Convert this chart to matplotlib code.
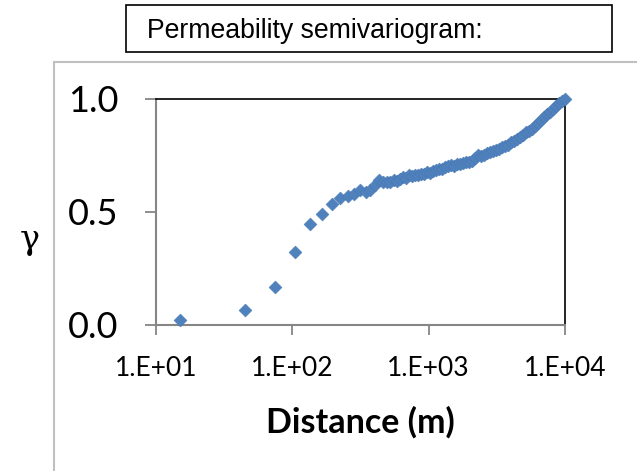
import matplotlib
matplotlib.use("Agg")
import matplotlib.pyplot as plt
from matplotlib.patches import Rectangle

# semivariogram points (lag distance in m, gamma)
distance = [15, 45, 75, 105, 135, 165, 195, 225, 255, 285, 315, 345, 375,
            405, 434, 464, 496, 522, 559, 588, 618, 650, 684, 720, 757,
            796, 838, 881, 927, 975, 1026, 1079, 1135, 1194, 1256, 1321,
            1390, 1462, 1538, 1618, 1702, 1790, 1883, 1981, 2084, 2192,
            2306, 2426, 2552, 2685, 2824, 2971, 3126, 3288, 3459, 3639,
            3828, 4027, 4236, 4456, 4688, 4931, 5188, 5457, 5741, 6039,
            6353, 6683, 7030, 7395, 7780, 8184, 8605, 9053, 9522, 10000]
gamma = [0.021, 0.062, 0.165, 0.320, 0.446, 0.490, 0.535, 0.560, 0.567,
         0.579, 0.597, 0.586, 0.597,
         0.616, 0.641, 0.630, 0.632, 0.632, 0.641, 0.637, 0.645, 0.652,
         0.648, 0.660, 0.657, 0.662, 0.660, 0.668, 0.665, 0.675, 0.672,
         0.680, 0.684, 0.690, 0.688, 0.696, 0.700, 0.704, 0.703, 0.708,
         0.712, 0.715, 0.718, 0.720, 0.722, 0.735, 0.748, 0.745, 0.752,
         0.758, 0.763, 0.768, 0.774, 0.778, 0.784, 0.790, 0.796, 0.806,
         0.814, 0.822, 0.830, 0.840, 0.850, 0.858, 0.866, 0.878, 0.892,
         0.905, 0.918, 0.930, 0.942, 0.955, 0.966, 0.978, 0.988, 1.000]

x_ticks = [10, 100, 1000, 10000]
x_tick_labels = ["1.E+01", "1.E+02", "1.E+03", "1.E+04"]
y_ticks = [0.0, 0.5, 1.0]
y_tick_labels = ["0.0", "0.5", "1.0"]

W, H = 637, 471
fig = plt.figure(figsize=(W / 100, H / 100), dpi=100)

# outer chart frame (light grey), running off the right and bottom edges
fig.patches.append(Rectangle((54 / W, -0.1), 1.0, 1 - 62 / H + 0.1,
                             transform=fig.transFigure, fill=False,
                             edgecolor="#c0c0c0", linewidth=1.5))

# title box
fig.patches.append(Rectangle((126 / W, 1 - 52 / H), (612 - 126) / W, 47 / H,
                             transform=fig.transFigure, fill=False,
                             edgecolor="black", linewidth=1.2))
fig.text(147 / W, 1 - 31 / H, "Permeability semivariogram:",
         fontsize=19.2, family="Liberation Sans", va="center", ha="left")

ax = fig.add_axes([155.7 / W, 1 - 324.5 / H, (565 - 155.7) / W, (324.5 - 98.5) / H])
ax.scatter(distance, gamma, marker="D", s=44, color="#4F81BD",
           edgecolor="#4676b0", linewidth=0.3, zorder=3, clip_on=False)

ax.set_xscale("log")
ax.set_xlim(10, 10000)
ax.set_ylim(0, 1)
ax.set_xticks(x_ticks)
ax.set_xticklabels(x_tick_labels)
ax.set_yticks(y_ticks)
ax.set_yticklabels(y_tick_labels)
ax.minorticks_off()

for side in ["top", "right"]:
    ax.spines[side].set_color("black")
    ax.spines[side].set_linewidth(1.2)
for side in ["left", "bottom"]:
    ax.spines[side].set_color("#868686")
    ax.spines[side].set_linewidth(1.5)

ax.tick_params(axis="y", direction="out", length=8, width=1.3, color="#868686",
               labelsize=26, pad=19)
ax.tick_params(axis="x", direction="out", length=7, width=1.3, color="#868686",
               labelsize=19, pad=16)
for lab in ax.get_xticklabels() + ax.get_yticklabels():
    lab.set_family("Lato")

ax.set_xlabel("Distance (m)", fontsize=24.5, fontweight="bold", family="Lato",
              labelpad=18)
fig.text(30 / W, 1 - 240 / H, "\u03b3", fontsize=24, family="DejaVu Serif",
         ha="center", va="center")

fig.savefig("out.png", dpi=100)
